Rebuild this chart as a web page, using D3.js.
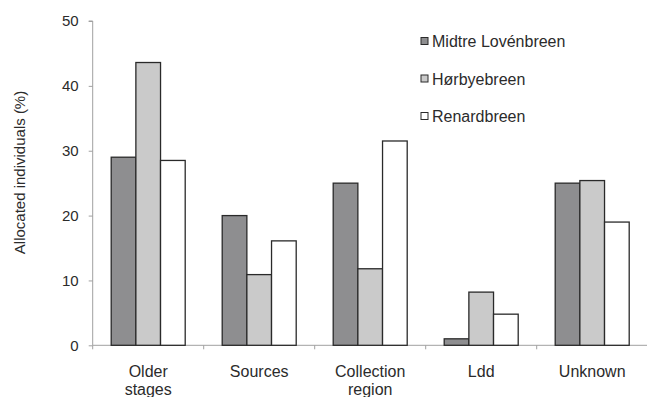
<!DOCTYPE html>
<html>
<head>
<meta charset="utf-8">
<script src="https://cdn.jsdelivr.net/npm/d3@7"></script>
<style>
  body { margin: 0; background: #fff; }
  text { font-family: "Liberation Sans", Arial, sans-serif; fill: #2b2b2b; }
</style>
</head>
<body>
<div id="chart"></div>
<script>
// chart data
const categories = [["Older", "stages"], ["Sources"], ["Collection", "region"], ["Ldd"], ["Unknown"]];
const seriesNames = ["Midtre Lovénbreen", "Hørbyebreen", "Renardbreen"];
const midtre = [29, 20, 25, 1, 25];
const horbye = [43.6, 10.9, 11.8, 8.2, 25.4];
const renard = [28.5, 16.1, 31.5, 4.8, 19];
const yTicks = [0, 10, 20, 30, 40, 50];
const colors = ["#8e8e90", "#cacaca", "#ffffff"];

const width = 647, height = 397;
const svg = d3.select("#chart").append("svg")
    .attr("width", width)
    .attr("height", height);

const catKeys = categories.map(c => c.join(" "));
const allSeries = [midtre, horbye, renard];

// scales
const x = d3.scaleBand()
    .domain(catKeys)
    .range([92.7, 647.7]);

const xSub = d3.scaleBand()
    .domain(seriesNames)
    .range([x.bandwidth() / 6, x.bandwidth() * 5 / 6]);

const y = d3.scaleLinear()
    .domain([0, 50])
    .range([345.3, 21]);

// y axis
const yAxis = svg.append("g")
    .attr("transform", "translate(92.7,0)")
    .call(d3.axisLeft(y).tickValues(yTicks).tickSize(4).tickPadding(10));
yAxis.select(".domain").attr("stroke", "#a0a0a0").attr("d", `M-4,${y(50)}H0V${y(0)}`);
yAxis.selectAll(".tick line").attr("stroke", "#a0a0a0");
yAxis.selectAll(".tick text").attr("font-size", 15).style("fill", "#2b2b2b")
    .attr("font-family", "Liberation Sans, Arial, sans-serif");

// x axis line with boundary ticks
svg.append("line")
    .attr("x1", x.range()[0]).attr("x2", x.range()[1])
    .attr("y1", y(0)).attr("y2", y(0))
    .attr("stroke", "#a0a0a0");

const bounds = catKeys.map(k => x(k)).concat([x.range()[1]]);
svg.selectAll(".xTick")
    .data(bounds)
    .enter()
    .append("line")
    .attr("class", "xTick")
    .attr("x1", d => d).attr("x2", d => d)
    .attr("y1", y(0)).attr("y2", y(0) + 4)
    .attr("stroke", "#a0a0a0");

// bars
const groups = svg.selectAll(".group")
    .data(catKeys)
    .enter()
    .append("g")
    .attr("class", "group")
    .attr("transform", d => `translate(${x(d)},0)`);

groups.selectAll("rect")
    .data((d, i) => seriesNames.map((s, j) => ({series: s, idx: j, value: allSeries[j][i]})))
    .enter()
    .append("rect")
    .attr("x", d => xSub(d.series))
    .attr("y", d => y(d.value))
    .attr("width", xSub.bandwidth())
    .attr("height", d => y(0) - y(d.value))
    .attr("fill", d => colors[d.idx])
    .attr("stroke", "#2a2a2a")
    .attr("stroke-width", 1.3);

// x labels
const xLabels = svg.selectAll(".xLabel")
    .data(categories)
    .enter()
    .append("text")
    .attr("class", "xLabel")
    .attr("text-anchor", "middle")
    .attr("font-size", 16)
    .attr("x", (d, i) => x(catKeys[i]) + x.bandwidth() / 2)
    .attr("y", 376.5);

xLabels.selectAll("tspan")
    .data(d => d)
    .enter()
    .append("tspan")
    .attr("x", function() { return d3.select(this.parentNode).attr("x"); })
    .attr("dy", (d, i) => i === 0 ? 0 : 18)
    .text(d => d);

// y label
svg.append("text")
    .attr("transform", "translate(25,172.5) rotate(-90)")
    .attr("text-anchor", "middle")
    .attr("font-size", 15)
    .text("Allocated individuals (%)");

// legend
const legendY = [41, 78.5, 116];
const legend = svg.selectAll(".legend")
    .data(seriesNames)
    .enter()
    .append("g")
    .attr("class", "legend")
    .attr("transform", (d, i) => `translate(421,${legendY[i]})`);

legend.append("rect")
    .attr("x", 0).attr("y", -3.5)
    .attr("width", 7).attr("height", 7)
    .attr("fill", (d, i) => colors[i])
    .attr("stroke", "#2a2a2a")
    .attr("stroke-width", 1);

legend.append("text")
    .attr("x", 11)
    .attr("y", 6)
    .attr("font-size", 16)
    .text(d => d);
</script>
</body>
</html>
